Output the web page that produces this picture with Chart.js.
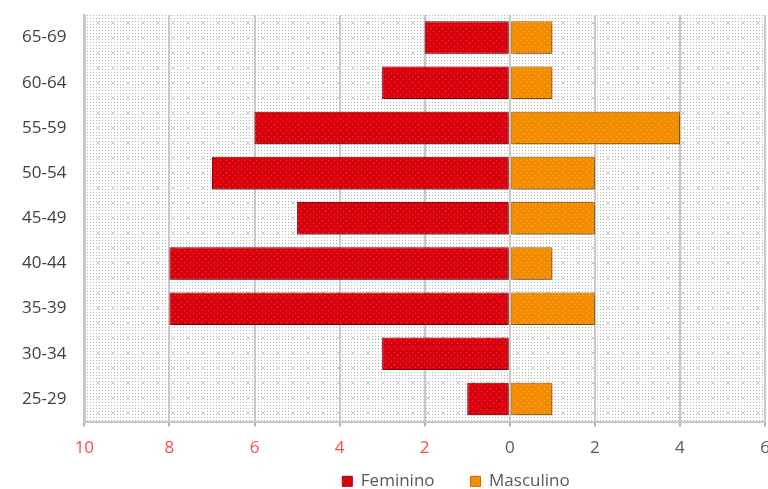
<!DOCTYPE html>
<html>
<head>
<meta charset="utf-8">
<script src="https://cdn.jsdelivr.net/npm/chart.js@4"></script>
<style>
  html, body { margin: 0; padding: 0; background: #ffffff; }
  #wrap { width: 768px; height: 489px; position: relative; }
</style>
</head>
<body>
<div id="wrap"><canvas id="c" width="768" height="489"></canvas></div>
<script>
// Age groups, top to bottom
const ageGroups = ['65-69', '60-64', '55-59', '50-54', '45-49', '40-44', '35-39', '30-34', '25-29'];
// Women drawn to the left (negative), men to the right
const feminino = [-2, -3, -6, -7, -5, -8, -8, -3, -1];
const masculino = [1, 1, 4, 2, 2, 1, 2, 0, 1];
const xTicks = [-10, -8, -6, -4, -2, 0, 2, 4, 6];

const FONT = 'Open Sans';
const FONT_SIZE = 17;

// Dotted texture for the bars
function barPattern(base, dot) {
  const c = document.createElement('canvas');
  c.width = 6; c.height = 6;
  const g = c.getContext('2d');
  g.fillStyle = base; g.fillRect(0, 0, 6, 6);
  g.fillStyle = dot; g.fillRect(1, 1, 1, 1); g.fillRect(4, 4, 1, 1);
  return g.createPattern(c, 'repeat');
}

// Fine dotted background with small crosses for the plot area
function areaPattern() {
  const c = document.createElement('canvas');
  c.width = 15; c.height = 15;
  const g = c.getContext('2d');
  g.fillStyle = '#ffffff'; g.fillRect(0, 0, 15, 15);
  g.fillStyle = '#b4b4b4';
  for (let x = 0; x < 15; x += 3) for (let y = 0; y < 15; y += 3) g.fillRect(x, y, 1, 1);
  g.strokeStyle = '#c4c4c4'; g.lineWidth = 0.9;
  g.beginPath();
  g.moveTo(6, 6); g.lineTo(10, 10); g.moveTo(10, 6); g.lineTo(6, 10);
  g.stroke();
  return g.createPattern(c, 'repeat');
}

const plotBackground = {
  id: 'plotBackground',
  beforeDraw(chart) {
    const { ctx, chartArea: a } = chart;
    ctx.save();
    ctx.fillStyle = areaPattern();
    ctx.fillRect(a.left, a.top, a.right - a.left, a.bottom - a.top);
    ctx.restore();
  }
};

const barShadow = {
  id: 'barShadow',
  beforeDatasetsDraw(chart) {
    const ctx = chart.ctx;
    ctx.save();
    ctx.shadowColor = 'rgba(0,0,0,0.45)';
    ctx.shadowBlur = 4;
    ctx.shadowOffsetX = 2;
    ctx.shadowOffsetY = 2;
  },
  afterDatasetsDraw(chart) {
    chart.ctx.restore();
  }
};

// Keep wide horizontal spacing between legend items without the tall
// vertical margin: reserve a short band, then place the legend at the foot.
const LEGEND_BAND = 20;
const LEGEND_CENTER_X = 456;
const LEGEND_CENTER_Y = 483;
const compactLegend = {
  id: 'compactLegend',
  afterInit(chart) {
    const legend = chart.legend;
    const fit0 = legend.fit;
    legend.fit = function () {
      fit0.call(this);
      this.height = LEGEND_BAND;
    };
  },
  afterLayout(chart) {
    const legend = chart.legend;
    const pad = legend.options.labels.padding;
    const itemH = Math.max(legend.options.labels.font.size * 1.2, legend.options.labels.boxHeight);
    legend.top = LEGEND_CENTER_Y - pad - itemH / 2;
    legend.bottom = chart.height;
    legend.height = legend.bottom - legend.top;
    const w = legend.right - legend.left;
    legend.left = LEGEND_CENTER_X - w / 2;
    legend.right = LEGEND_CENTER_X + w / 2;
  }
};

new Chart(document.getElementById('c'), {
  type: 'bar',
  data: {
    labels: ageGroups,
    datasets: [
      {
        label: 'Feminino',
        data: feminino,
        backgroundColor: barPattern('#d8000c', '#f23a3a'),
        borderColor: '#a80008',
        borderWidth: 1,
        borderSkipped: false,
        barPercentage: 0.72,
        categoryPercentage: 1
      },
      {
        label: 'Masculino',
        data: masculino,
        backgroundColor: barPattern('#f28c00', '#ffb03a'),
        borderColor: '#c86a00',
        borderWidth: 1,
        borderSkipped: false,
        barPercentage: 0.72,
        categoryPercentage: 1
      }
    ]
  },
  options: {
    indexAxis: 'y',
    responsive: false,
    animation: false,
    layout: { padding: { left: 4, right: 0, top: 15, bottom: 0 } },
    plugins: {
      legend: {
        position: 'bottom',
        labels: {
          font: { family: FONT, size: FONT_SIZE },
          color: '#595959',
          boxWidth: 10,
          boxHeight: 10,
          padding: 36
        }
      },
      tooltip: { enabled: false }
    },
    scales: {
      x: {
        stacked: true,
        min: -10,
        max: 6,
        afterBuildTicks(axis) { axis.ticks = xTicks.map(v => ({ value: v })); },
        afterFit(axis) { axis.paddingLeft = 0; axis.paddingRight = 3; },
        ticks: {
          callback: v => Math.abs(v),
          color: ctx => (ctx.tick && ctx.tick.value < 0) ? '#ff4a4a' : '#595959',
          font: { family: FONT, size: FONT_SIZE },
          padding: 11,
          maxRotation: 0
        },
        grid: {
          color: '#c8c8c8',
          lineWidth: 2,
          drawTicks: true,
          tickLength: 5,
          tickColor: '#b0b0b0'
        },
        border: { display: true, color: '#c8c8c8', width: 2 }
      },
      y: {
        stacked: true,
        afterFit(axis) { axis.paddingTop = 0; axis.paddingBottom = 0; },
        ticks: {
          color: '#404040',
          font: { family: FONT, size: FONT_SIZE },
          padding: 18
        },
        grid: { display: false, drawTicks: false },
        border: { display: true, color: '#c8c8c8', width: 3 }
      }
    }
  },
  plugins: [plotBackground, barShadow, compactLegend]
});
</script>
</body>
</html>
